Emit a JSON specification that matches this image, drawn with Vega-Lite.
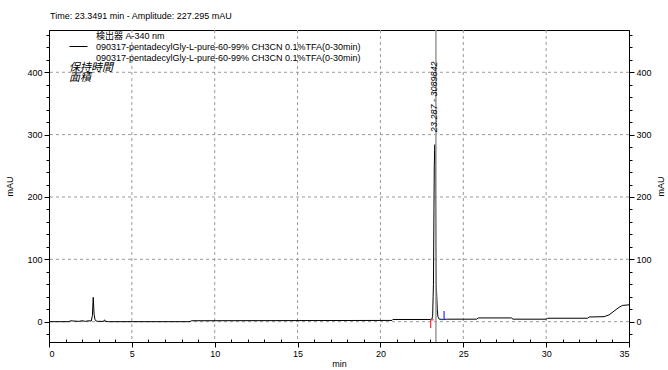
{
  "$schema": "https://vega.github.io/schema/vega-lite/v6.json",
  "width": 580,
  "height": 312,
  "autosize": {"type": "none"},
  "padding": {"left": 49, "top": 30, "right": 39, "bottom": 28},
  "background": "white",
  "title": {
    "text": "Time:  23.3491 min - Amplitude:  227.295 mAU",
    "anchor": "start",
    "frame": "group",
    "fontSize": 9,
    "fontWeight": "normal",
    "font": "Liberation Sans",
    "offset": 8,
    "dx": 1
  },
  "config": {
    "view": {"stroke": "black", "strokeWidth": 1},
    "font": "Liberation Sans, Noto Sans CJK JP",
    "axis": {
      "labelFont": "Liberation Sans",
      "labelFontSize": 9,
      "labelColor": "black",
      "labelOverlap": false,
      "titleFont": "Liberation Sans",
      "titleFontSize": 9,
      "titleFontWeight": "normal",
      "titleColor": "black",
      "domainColor": "black",
      "tickColor": "black",
      "grid": false
    }
  },
  "datasets": {
    "chrom": [
      {"t": 0, "a": 0}, {"t": 1.2, "a": 0}, {"t": 1.3, "a": 1.5}, {"t": 1.5, "a": 1},
      {"t": 1.8, "a": 0.5}, {"t": 2.0, "a": 1.5}, {"t": 2.2, "a": 0.5}, {"t": 2.4, "a": 1.5},
      {"t": 2.55, "a": 1}, {"t": 2.62, "a": 10}, {"t": 2.67, "a": 39}, {"t": 2.72, "a": 12},
      {"t": 2.78, "a": 3}, {"t": 2.85, "a": 1}, {"t": 3.0, "a": 0.5}, {"t": 3.3, "a": 0.5},
      {"t": 3.35, "a": 3}, {"t": 3.42, "a": 0.5}, {"t": 3.6, "a": 0}, {"t": 8.5, "a": 0},
      {"t": 8.6, "a": 1.5}, {"t": 20.7, "a": 2}, {"t": 20.75, "a": 3.5}, {"t": 23.0, "a": 3.5},
      {"t": 23.1, "a": 4}, {"t": 23.15, "a": 8}, {"t": 23.18, "a": 40}, {"t": 23.2, "a": 60},
      {"t": 23.23, "a": 180}, {"t": 23.25, "a": 250}, {"t": 23.27, "a": 275}, {"t": 23.29, "a": 284},
      {"t": 23.31, "a": 270}, {"t": 23.33, "a": 190}, {"t": 23.35, "a": 110}, {"t": 23.37, "a": 60},
      {"t": 23.4, "a": 40}, {"t": 23.43, "a": 20}, {"t": 23.47, "a": 8}, {"t": 23.55, "a": 4},
      {"t": 23.8, "a": 3.5}, {"t": 24.0, "a": 4}, {"t": 25.8, "a": 4}, {"t": 25.9, "a": 6},
      {"t": 27.9, "a": 6}, {"t": 28.0, "a": 4}, {"t": 30.0, "a": 4}, {"t": 30.1, "a": 5.5},
      {"t": 32.5, "a": 5.5}, {"t": 32.6, "a": 7.5}, {"t": 33.5, "a": 8}, {"t": 33.8, "a": 11},
      {"t": 34.1, "a": 17}, {"t": 34.4, "a": 23}, {"t": 34.6, "a": 26}, {"t": 35.0, "a": 27}
    ],
    "marks": [
      {"kind": "start", "t": 23.03, "t2": 23.03, "a": -10, "a2": 3},
      {"kind": "start", "t": 23.03, "t2": 23.22, "a": 3, "a2": 3},
      {"kind": "end", "t": 23.84, "t2": 23.84, "a": 4, "a2": 17},
      {"kind": "end", "t": 23.6, "t2": 23.84, "a": 3.5, "a2": 3.5}
    ],
    "notes": [
      {"t": 1.21, "a": 407, "label": "保持時間"},
      {"t": 1.21, "a": 391, "label": "面積"}
    ],
    "peak": [{"t": 23.22, "a": 304, "label": "23.287 - 3089842"}],
    "cursor": [{"t": 23.3491}],
    "xgrid": [{"t": 5}, {"t": 10}, {"t": 15}, {"t": 20}, {"t": 25}, {"t": 30}],
    "ygrid": [{"a": 0}, {"a": 100}, {"a": 200}, {"a": 300}, {"a": 400}]
  },
  "resolve": {"axis": {"x": "independent", "y": "independent"}},
  "layer": [
    {
      "data": {"name": "xgrid"},
      "mark": {"type": "rule", "color": "#9a9a9a", "strokeWidth": 1, "strokeDash": [3, 3]},
      "encoding": {
        "x": {
          "field": "t", "type": "quantitative",
          "scale": {"domain": [0, 35], "nice": false, "zero": false},
          "axis": null
        }
      }
    },
    {
      "data": {"name": "ygrid"},
      "mark": {"type": "rule", "color": "#9a9a9a", "strokeWidth": 1, "strokeDash": [3, 3]},
      "encoding": {
        "y": {
          "field": "a", "type": "quantitative",
          "scale": {"domain": [-32.6, 467.8], "nice": false, "zero": false},
          "axis": null
        }
      }
    },
    {
      "data": {"name": "chrom"},
      "mark": {"type": "line", "color": "black", "strokeWidth": 1, "interpolate": "linear"},
      "transform": [{"calculate": "'a'", "as": "series"}],
      "encoding": {
        "x": {
          "field": "t", "type": "quantitative",
          "axis": {
            "orient": "bottom",
            "title": "min",
            "titlePadding": 1,
            "values": [0, 5, 10, 15, 20, 25, 30, 35],
            "labelPadding": 2,
            "tickSize": 5
          }
        },
        "y": {
          "field": "a", "type": "quantitative",
          "axis": {
            "orient": "left",
            "title": "mAU",
            "titlePadding": 12,
            "values": [0, 100, 200, 300, 400],
            "labelPadding": 2,
            "tickSize": 5
          }
        },
        "color": {
          "field": "series", "type": "nominal",
          "scale": {"domain": ["h", "a", "b"], "range": ["rgba(0,0,0,0)", "black", "rgba(0,0,0,0)"]},
          "legend": {
            "orient": "none",
            "legendX": 24,
            "legendY": 0,
            "title": null,
            "padding": 0,
            "symbolType": "M-1.8,0H1.8",
            "symbolSize": 100,
            "symbolStrokeWidth": 1,
            "labelOffset": 12,
            "labelFontSize": 9,
            "labelFont": "Liberation Sans, Noto Sans CJK JP",
            "labelColor": "black",
            "labelLimit": 0,
            "rowPadding": 0,
            "labelExpr": "datum.value === 'h' ? '検出器 A-340 nm' : '090317-pentadecylGly-L-pure-60-99% CH3CN 0.1%TFA(0-30min)'"
          }
        }
      }
    },
    {
      "data": {"name": "chrom"},
      "mark": {"type": "line", "opacity": 0},
      "encoding": {
        "x": {
          "field": "t", "type": "quantitative",
          "axis": {
            "orient": "bottom",
            "title": null, "labels": false, "domain": false,
            "values": [1,2,3,4,6,7,8,9,11,12,13,14,16,17,18,19,21,22,23,24,26,27,28,29,31,32,33,34],
            "tickSize": -3
          }
        },
        "y": {
          "field": "a", "type": "quantitative",
          "axis": {
            "orient": "left", "title": null, "labels": false, "domain": false,
            "values": [-20,20,40,60,80,120,140,160,180,220,240,260,280,320,340,360,380,420,440,460],
            "tickSize": 3
          }
        }
      }
    },
    {
      "data": {"name": "chrom"},
      "mark": {"type": "line", "opacity": 0},
      "encoding": {
        "x": {"field": "t", "type": "quantitative", "axis": null},
        "y": {
          "field": "a", "type": "quantitative",
          "axis": {
            "orient": "right", "title": null, "labels": false, "domain": false,
            "values": [-20,20,40,60,80,120,140,160,180,220,240,260,280,320,340,360,380,420,440,460],
            "tickSize": 3
          }
        }
      }
    },
    {
      "data": {"name": "chrom"},
      "mark": {"type": "line", "opacity": 0},
      "encoding": {
        "x": {"field": "t", "type": "quantitative", "axis": null},
        "y": {
          "field": "a", "type": "quantitative",
          "axis": {
            "orient": "right",
            "title": "mAU",
            "titleAngle": 270,
            "titlePadding": 14,
            "values": [0, 100, 200, 300, 400],
            "labelPadding": 2,
            "tickSize": 5
          }
        }
      }
    },
    {
      "data": {"name": "cursor"},
      "mark": {"type": "rule", "color": "#999999", "strokeWidth": 1.5},
      "encoding": {
        "x": {"field": "t", "type": "quantitative", "axis": null}
      }
    },
    {
      "data": {"name": "marks"},
      "mark": {"type": "rule", "strokeWidth": 1.2},
      "encoding": {
        "x": {"field": "t", "type": "quantitative", "axis": null},
        "x2": {"field": "t2"},
        "y": {"field": "a", "type": "quantitative", "axis": null},
        "y2": {"field": "a2"},
        "stroke": {"field": "kind", "type": "nominal", "scale": {"domain": ["start", "end"], "range": ["#ff3030", "#2030ff"]}, "legend": null}
      }
    },
    {
      "data": {"name": "peak"},
      "mark": {"type": "text", "angle": 270, "align": "left", "baseline": "middle", "fontSize": 9, "fontStyle": "italic", "font": "Liberation Sans", "color": "black"},
      "encoding": {
        "x": {"field": "t", "type": "quantitative", "axis": null},
        "y": {"field": "a", "type": "quantitative", "axis": null},
        "text": {"field": "label"}
      }
    },
    {
      "data": {"name": "notes"},
      "mark": {"type": "text", "align": "left", "baseline": "middle", "fontSize": 11, "fontStyle": "italic", "font": "Noto Sans CJK JP", "color": "black"},
      "encoding": {
        "x": {"field": "t", "type": "quantitative", "axis": null},
        "y": {"field": "a", "type": "quantitative", "axis": null},
        "text": {"field": "label"}
      }
    }
  ]
}
